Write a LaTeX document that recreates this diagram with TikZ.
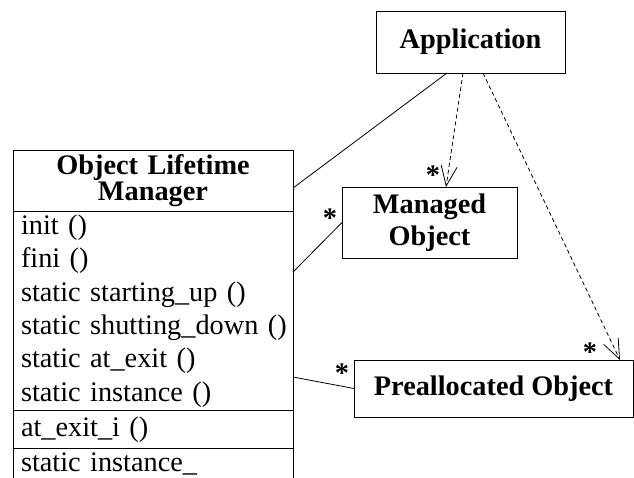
\documentclass[tikz,border=0pt]{standalone}
\usepackage{fontspec}
\setmainfont{Liberation Serif}
\usetikzlibrary{arrows.meta, positioning}
\newcommand{\umlsize}{\fontsize{28.3}{33.4}\selectfont}

\begin{document}
\begin{tikzpicture}[x=1pt, y=-1pt, line width=0.8pt,
    classbox/.style={draw, rectangle, inner sep=0pt, outer sep=0pt, font=\umlsize\bfseries, align=center},
    comp/.style={draw, rectangle, inner xsep=8pt, inner ysep=0pt, outer sep=0pt,
                 minimum width=280pt, text width=264pt, font=\umlsize},
    dep/.style={dash pattern=on 4pt off 3pt, -{Straight Barb[length=20pt, width=16pt]}},
    mult/.style={font=\umlsize\bfseries, inner sep=0pt}]
        \useasboundingbox (0,0) rectangle (634,477);

        % Object Lifetime Manager class
        \node[comp, minimum height=61pt, align=center, font=\fontsize{28.3}{26}\selectfont\bfseries] (olm) at (153,181) {Object Lifetime\\Manager};
        \node[comp, minimum height=199pt, align=left, below=0pt of olm] (ops) {\mbox{init ()}\\\mbox{fini ()}\\\mbox{static starting\_up ()}\\\mbox{static shutting\_down ()}\\\mbox{static at\_exit ()}\\\mbox{static instance ()}};
        \node[comp, minimum height=38pt, align=left, below=0pt of ops] (priv) {at\_exit\_i ()};
        \node[comp, draw=none, minimum height=30pt, align=left, below=0pt of priv] (attr) {static instance\_};
        \draw (attr.north west) -- (attr.south west);
        \draw (attr.north east) -- (attr.south east);

        % Other classes
        \node[classbox, minimum width=189pt, minimum height=62pt] (app) at (470.5,42) {Application};
        \node[classbox, minimum width=175pt, minimum height=71pt, font=\fontsize{28.3}{32}\selectfont\bfseries] (mo) at (429.5,222.5) {Managed\\Object};
        \node[classbox, minimum width=279pt, minimum height=57pt] (pre) at (493.5,388.5) {Preallocated Object};

        % Associations
        \draw ([xshift=-23.5pt]app.south) -- ([yshift=-7pt]olm.east);
        \draw ([yshift=39pt]ops.east) -- (mo.west);
        \draw ([yshift=-66pt]ops.east) -- (pre.west);

        % Dependencies
        \draw[dep] ([xshift=-7.5pt]app.south) -- ([xshift=16.5pt]mo.north);
        \draw[dep] ([xshift=12.5pt]app.south) -- ([xshift=-13pt]pre.north east);

        % Multiplicities
        \node[mult] (m1) at (433,175) {*};
        \node[mult] (m2) at (330,218) {*};
        \node[mult] (m3) at (342,373) {*};
        \node[mult] (m4) at (590,352) {*};
\end{tikzpicture}
\end{document}
